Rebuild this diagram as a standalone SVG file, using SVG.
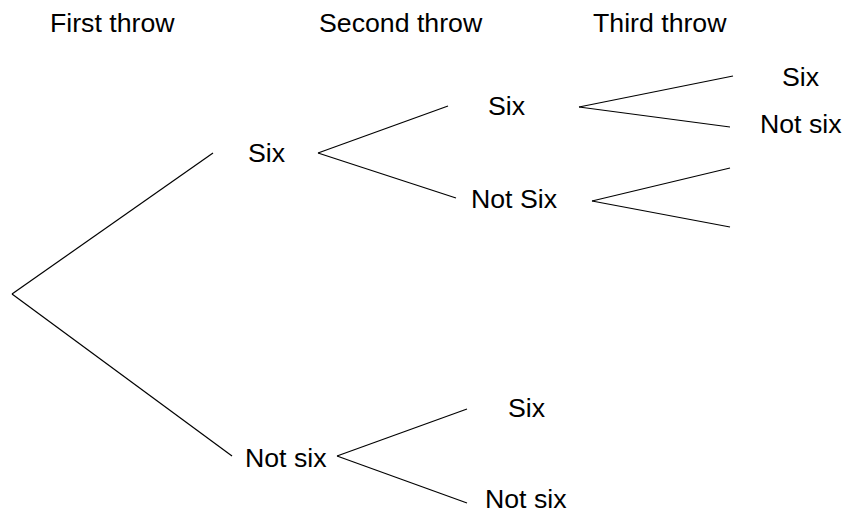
<svg xmlns="http://www.w3.org/2000/svg" width="846" height="515" viewBox="0 0 846 515">
<style>
text{font-family:"Liberation Sans",Arial,sans-serif;font-size:26.7px;fill:#000}
.c line{stroke:#000;stroke-width:1.2;fill:none}
</style>
<rect width="846" height="515" fill="#fff"/>
<g id="headers">
<text x="50" y="32">First throw</text>
<text x="319" y="32">Second throw</text>
<text x="593" y="32">Third throw</text>
</g>
<g class="c" id="connectors">
<line x1="12" y1="294" x2="213" y2="153"/>
<line x1="12" y1="294" x2="232" y2="456"/>
<line x1="318" y1="153" x2="448" y2="106"/>
<line x1="318" y1="153" x2="456" y2="198"/>
<line x1="579" y1="107" x2="733" y2="76"/>
<line x1="579" y1="107" x2="730" y2="127"/>
<line x1="592" y1="201" x2="730" y2="168"/>
<line x1="592" y1="201" x2="730" y2="227"/>
<line x1="337" y1="456" x2="467" y2="409"/>
<line x1="337" y1="456" x2="467" y2="503"/>
</g>
<g id="n1"><text x="248" y="162">Six</text></g>
<g id="n2"><text x="245" y="467">Not six</text></g>
<g id="n3"><text x="488" y="115">Six</text></g>
<g id="n4"><text x="471" y="208">Not Six</text></g>
<g id="n5"><text x="782" y="86">Six</text></g>
<g id="n6"><text x="760" y="133">Not six</text></g>
<g id="n7"><text x="508" y="417">Six</text></g>
<g id="n8"><text x="485" y="508">Not six</text></g>
</svg>
